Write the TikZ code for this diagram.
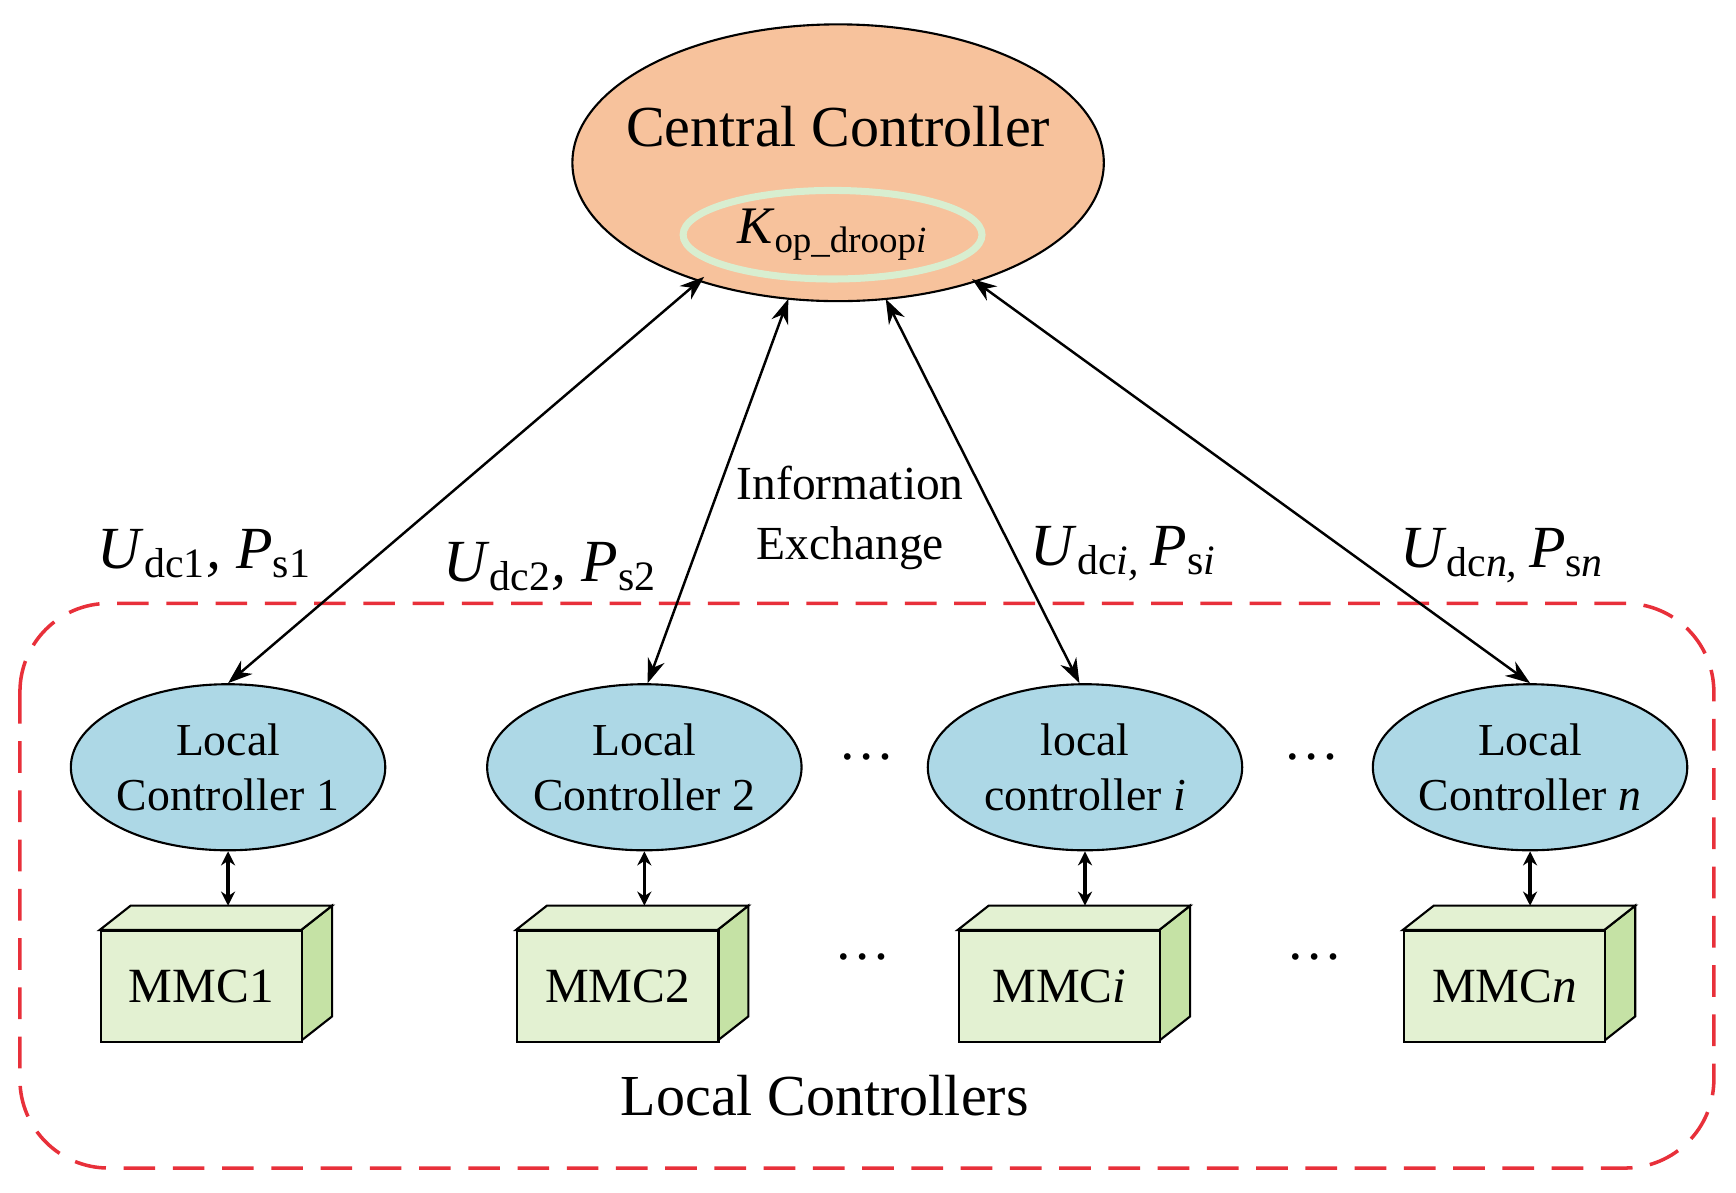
\documentclass[tikz,border=0pt]{standalone}
\usepackage{fontspec}
\setmainfont{Liberation Serif}
\usetikzlibrary{shapes.geometric,arrows.meta}
\definecolor{corange}{HTML}{F7C29C}
\definecolor{cblue}{HTML}{ADD8E6}
\definecolor{cgreen}{HTML}{E3F1D2}
\definecolor{cside}{HTML}{C5E2A5}
\definecolor{cring}{HTML}{D8EED0}
\definecolor{cred}{HTML}{E8303A}
\newcommand{\lab}[3]{\textit{#1}\textsubscript{#2}\textit{, #3}}
\newcommand{\un}{*0.01107cm}
\tikzset{
 lc/.style={ellipse,draw,fill=cblue,minimum width=284\un,minimum height=150\un,inner sep=0pt,align=center,font=\fontsize{13}{15.5}\selectfont,line width=0.6pt},
 arr/.style={{Stealth[length=7pt,width=5pt]}-{Stealth[length=7pt,width=5pt]},line width=0.7pt},
 sarr/.style={{Stealth[length=4pt,width=4pt]}-{Stealth[length=4pt,width=4pt]},line width=0.9pt},
 lbl/.style={font=\fontsize{17}{20}\selectfont},
}
\newcommand{\mmc}[3]{%
 \fill[cside,draw=black,line width=0.6pt] (#2+182,840) -- (#2+210,818) -- (#2+210,918) -- (#2+182,940) -- cycle;
 \fill[cgreen,draw=black,line width=0.6pt] (#2,840) -- (#2+28,818) -- (#2+210,818) -- (#2+182,840) -- cycle;
 \node[draw,fill=cgreen,line width=0.6pt,minimum width=182\un,minimum height=100\un,anchor=north west,inner sep=0,font=\fontsize{14}{17}\selectfont] (#1) at (#2,840) {#3};
 \coordinate (#1t) at (#2+116,818);
}
\begin{document}
\begin{tikzpicture}[x=0.01107cm,y=-0.01107cm]
\useasboundingbox (0,0) rectangle (1568,1077);
\draw[cred,dashed,dash pattern=on 9pt off 5pt,line width=1pt,rounded corners=80\un] (18,545) rectangle (1548,1055);
\node[ellipse,draw,fill=corange,minimum width=480\un,minimum height=250\un,line width=0.6pt] (cc) at (757,147) {};
\node[font=\fontsize{16.5}{20}\selectfont] (cct) at (757,114) {Central Controller};
\node[ellipse,draw=cring,line width=2pt,minimum width=270\un,minimum height=80\un,inner sep=0pt,font=\fontsize{15}{18}\selectfont] (k) at (752,212) {\textit{K}\textsubscript{op\_droop\textit{i}}};
\node[lc] (l1) at (206,693) {Local\\Controller 1};
\node[lc] (l2) at (582,693) {Local\\Controller 2};
\node[lc] (l3) at (980,693) {local\\controller \textit{i}};
\node[lc] (l4) at (1382,693) {Local\\Controller \textit{n}};
\mmc{m1}{90}{MMC1}
\mmc{m2}{466}{MMC2}
\mmc{m3}{865}{MMC\textit{i}}
\mmc{m4}{1267}{MMC\textit{n}}
\foreach \i in {1,2,3,4}{\draw[sarr] (l\i.south) -- (l\i.south |- m\i t);}
\coordinate (c1) at (636,250);\coordinate (c2) at (712,270);
\coordinate (c3) at (800,270);\coordinate (c4) at (878,252);
\draw[arr] (c1) -- (l1.north);
\draw[arr] (c2) -- ([xshift=3\un]l2.north);
\draw[arr] (c3) -- ([xshift=-5\un]l3.north);
\draw[arr] (c4) -- (l4.north);
\node[lbl] (u1) at (185,500) {\lab{U}{dc1}{P}\textsubscript{s1}};
\node[lbl] (u2) at (497,512) {\lab{U}{dc2}{P}\textsubscript{s2}};
\node[lbl] (u3) at (1015,500) {\textit{U}\textsubscript{dc\textit{i,}}\,\textit{P}\textsubscript{s\textit{i}}};
\node[lbl] (u4) at (1357,502) {\textit{U}\textsubscript{dc\textit{n,}}\,\textit{P}\textsubscript{s\textit{n}}};
\node[align=center,font=\fontsize{13.5}{17}\selectfont] (ie) at (768,468) {Information\\Exchange};
\node[font=\fontsize{16.5}{20}\selectfont] (lct) at (745,990) {Local Controllers};
\foreach \x/\y in {783/690,1185/690,779/870,1187/870}{\node[font=\fontsize{16}{20}\selectfont] at (\x,\y-6) {\dots};}
\end{tikzpicture}
\end{document}
